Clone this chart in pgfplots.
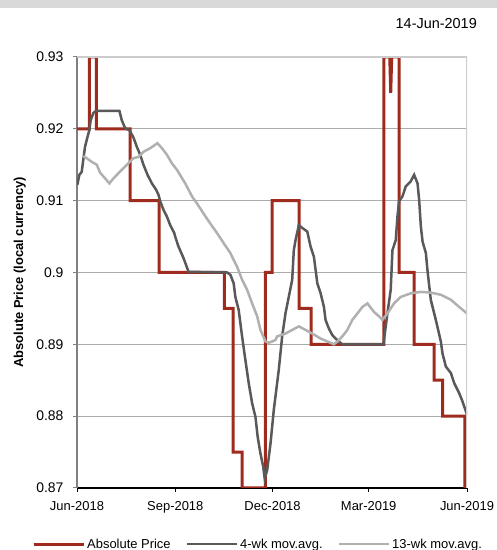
\documentclass[border=0pt]{standalone}
\usepackage{fontspec}
\setmainfont{Liberation Sans}
\usepackage{pgfplots}
\pgfplotsset{compat=1.18}
\definecolor{absred}{HTML}{9E2B1D}
\definecolor{darkg}{HTML}{595959}
\definecolor{lightg}{HTML}{B0B0B0}
\definecolor{gridg}{HTML}{ABABAB}
\definecolor{bandg}{HTML}{D9D9D9}
\begin{document}
\begin{tikzpicture}[x=1bp,y=1bp]
\useasboundingbox (0,0) rectangle (497,550);
\fill[bandg] (0,542) rectangle (497,550);
\node[anchor=base east,inner sep=0,font=\fontsize{14.5}{16}\selectfont] at (477,521) {14-Jun-2019};
\begin{axis}[
  at={(77bp,62bp)}, anchor=south west,
  scale only axis, width=390bp, height=431bp,
  xmin=0, xmax=365, ymin=0.87, ymax=0.93,
  axis x line*=bottom, axis y line*=left,
  x axis line style={black, line width=1.8bp, -},
  y axis line style={gray, line width=1.8bp, -},
  xtick={0,92,183,273,365},
  xticklabels={Jun-2018,Sep-2018,Dec-2018,Mar-2019,Jun-2019},
  ytick={0.87,0.88,0.89,0.9,0.91,0.92,0.93},
  yticklabels={0.87,0.88,0.89,0.9,0.91,0.92,0.93},
  tick align=outside, major tick length=4bp,
  x tick style={black, line width=1bp},
  y tick style={gray, line width=1bp},
  ymajorgrids, grid style={gridg, line width=1.2bp},
  xticklabel style={font=\fontsize{13}{15}\selectfont, yshift=-6bp},
  yticklabel style={font=\fontsize{14}{16}\selectfont, xshift=-6bp},
  ylabel={Absolute Price (local currency)},
  ylabel style={font=\bfseries\fontsize{13}{15}\selectfont, at={(axis description cs:-0.147,0.5)}, anchor=center},
  legend columns=3,
  legend style={at={(axis description cs:-0.1154,-0.1305)}, anchor=west, draw=none, fill=none, inner sep=0pt,
    font=\fontsize{13}{15}\selectfont, /tikz/every even column/.append style={column sep=13bp}},
  legend cell align=left,
  legend image code/.code={\draw[#1] (0bp,0bp) -- (50bp,0bp);},
]
\addplot[absred, line width=3bp] coordinates {
(0,0.92) (11.5,0.92) (11.5,0.93) (18.1,0.93) (18.1,0.92) (49.7,0.92) (49.7,0.91) (76.9,0.91) (76.9,0.90)
(137.9,0.90) (137.9,0.895) (146,0.895) (146,0.875) (154.5,0.875) (154.5,0.87) (176.4,0.87) (176.4,0.90)
(182.6,0.90) (182.6,0.91) (207.8,0.91) (207.8,0.895) (219.2,0.895) (219.2,0.89) (287.3,0.89) (287.3,0.93)
(292.7,0.93) (293.6,0.925) (294.5,0.93) (301.4,0.93) (301.4,0.90) (315.5,0.90) (315.5,0.89) (334.2,0.89)
(334.2,0.885) (342.1,0.885) (342.1,0.88) (363,0.88) (363,0.868)
};
\addlegendentry{Absolute Price}
\addplot[darkg, line width=2.5bp] coordinates {
(0.3,0.9122) (2.2,0.9136) (4.4,0.9140) (5.9,0.9157) (7.5,0.9175) (9.7,0.9188) (11.5,0.9198) (12.8,0.9212)
(15.3,0.9222) (17.8,0.9225) (39.7,0.9225) (41.9,0.9212) (45,0.9201) (49.1,0.9198) (52.8,0.9188) (56,0.9175)
(59.1,0.9164) (62.2,0.9150) (66,0.9136) (70.1,0.9124) (74.1,0.9115) (76.3,0.9108) (77.9,0.9099) (81,0.9087)
(84.1,0.9078) (87.2,0.9066) (91,0.9055) (91.9,0.9050) (95,0.9036) (99.7,0.9020) (104.4,0.9001) (140.4,0.900)
(143.5,0.8997) (146.6,0.8985) (148.2,0.8966) (151.3,0.8948) (154.5,0.8911) (157.6,0.8878) (160.7,0.8846)
(163.9,0.8818) (167,0.8799) (169.1,0.8771) (171.7,0.8748) (174.2,0.8730) (175.7,0.8713) (178,0.8725)
(181.1,0.8762) (184.2,0.8809) (185.7,0.8827) (188.8,0.8864) (192,0.8911) (195.1,0.8943) (198.2,0.8966)
(201.4,0.8990) (202.9,0.9031) (204.5,0.9045) (207.6,0.9066) (210.8,0.9062) (215.5,0.9057) (218.6,0.9036)
(221.7,0.9022) (224.9,0.8985) (228,0.8971) (231.1,0.8952) (232.6,0.8934) (235.7,0.8922) (238.9,0.8913)
(242,0.8908) (245.1,0.8904) (248.3,0.8900) (286.8,0.890) (290.5,0.8943) (293.6,0.8976) (295.2,0.9031)
(298.3,0.9045) (299.9,0.9078) (301.4,0.9099) (304.6,0.9106) (307.7,0.9120) (312.4,0.9127) (315.5,0.9136)
(318.7,0.9124) (320.2,0.9101) (321.8,0.9064) (323.4,0.9043) (326.5,0.9027) (328,0.9003) (331.1,0.8962)
(335.8,0.8934) (340.5,0.8904) (342.1,0.8887) (345.2,0.8869) (349.9,0.8860) (353,0.8846) (357.7,0.8832)
(360.9,0.8820) (365,0.8802)
};
\addlegendentry{4-wk mov.avg.}
\addplot[lightg, line width=2.5bp] coordinates {
(5.9,0.9162) (9.1,0.9159) (13.8,0.9154) (18.5,0.9150) (21.6,0.9139) (26.3,0.9131) (30.3,0.9124) (34.1,0.9131)
(38.7,0.9138) (43.4,0.9145) (48.1,0.9152) (52.8,0.9159) (57.5,0.9161) (62.2,0.9168) (68.5,0.9173) (75.3,0.9180)
(79.5,0.9173) (84.1,0.9164) (88.8,0.9152) (93.5,0.9143) (101.3,0.9124) (107.6,0.9106) (112.3,0.9096)
(118.5,0.9082) (124.8,0.9068) (131,0.9055) (137.2,0.9041) (143.5,0.9027) (149.8,0.9008) (154.5,0.8990)
(159.2,0.8976) (163.9,0.8957) (168.6,0.8939) (171.7,0.8920) (176.4,0.8904) (179.5,0.8902) (185.7,0.8906)
(187.3,0.8911) (195.1,0.8915) (201.4,0.8920) (207.6,0.8925) (213.9,0.8920) (220.2,0.8915) (228,0.8908)
(234.3,0.8904) (240.5,0.8900) (243.7,0.8904) (248.3,0.8911) (253,0.8920) (257.7,0.8934) (262.4,0.8943)
(267.1,0.8952) (271.8,0.8957) (278,0.8945) (282.6,0.8939) (285.8,0.8934) (290.5,0.8943) (296.7,0.8957)
(303,0.8966) (312.4,0.8971) (321.8,0.8973) (331.1,0.8972) (340.5,0.8969) (349.9,0.8962) (359.3,0.8950)
(365,0.8943)
};
\addlegendentry{13-wk mov.avg.}
\draw[gray!40, line width=1.2bp] (rel axis cs:0,1) -- (rel axis cs:1,1) -- (rel axis cs:1,0);
\end{axis}
\end{tikzpicture}
\end{document}
